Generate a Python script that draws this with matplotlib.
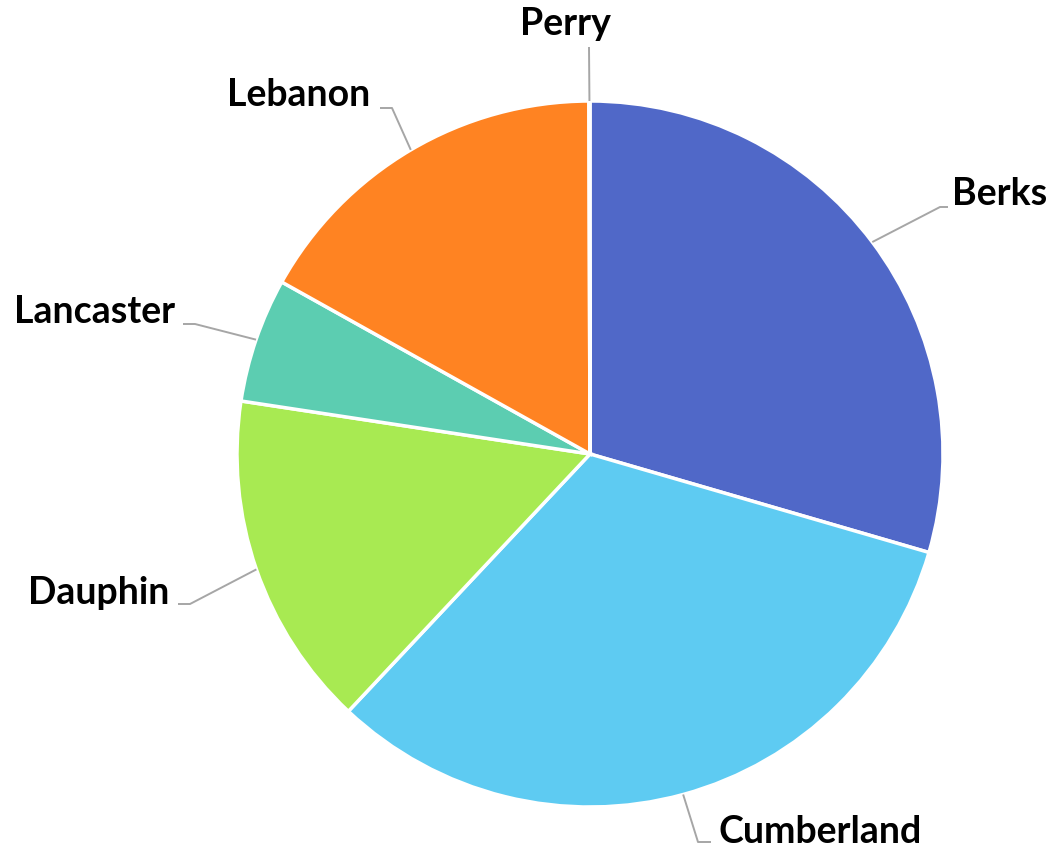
import numpy as np
import matplotlib
matplotlib.use("Agg")
import matplotlib.pyplot as plt

# County shares
labels = ["Berks", "Cumberland", "Dauphin", "Lancaster", "Lebanon", "Perry"]
values = [29.5, 32.5, 15.4, 5.7, 16.85, 0.05]
colors = ["#5068C8", "#5ECBF2", "#A8EA52", "#5CCDB1", "#FF8322", "#7E7E7E"]

W, H = 1055, 849
fig = plt.figure(figsize=(W / 100, H / 100), dpi=100)
ax = fig.add_axes([0, 0, 1, 1])

cx, cy_px, R = 590, 454, 353
wedges, _ = ax.pie(values, colors=colors, startangle=90, counterclock=False,
                   radius=R, center=(cx, H - cy_px), frame=True,
                   wedgeprops=dict(edgecolor="white", linewidth=2.5))
ax.set_xlim(0, W)
ax.set_ylim(0, H)
ax.set_aspect("equal")
ax.axis("off")

# leader elbows and label baselines, in pixel coordinates (y downward)
layout = {
    "Berks":      dict(path=[(940, 207), (948, 207)], text=(952, 205), ha="left"),
    "Cumberland": dict(path=[(698, 842), (711, 842)], text=(719, 843), ha="left"),
    "Dauphin":    dict(path=[(190, 604), (178, 604)], text=(169, 604), ha="right"),
    "Lancaster":  dict(path=[(195, 324), (183, 324)], text=(175, 323), ha="right"),
    "Lebanon":    dict(path=[(392, 108), (380, 108)], text=(370, 106), ha="right"),
    "Perry":      dict(path=[(589, 47)], text=(565, 35), ha="center"),
}

for w, lab in zip(wedges, labels):
    mid = np.deg2rad((w.theta1 + w.theta2) / 2)
    x0 = w.center[0] + w.r * np.cos(mid)
    y0 = w.center[1] + w.r * np.sin(mid)
    spec = layout[lab]
    xs = [x0] + [p[0] for p in spec["path"]]
    ys = [y0] + [H - p[1] for p in spec["path"]]
    ax.plot(xs, ys, color="#A6A6A6", lw=1.4, solid_capstyle="butt", zorder=1)
    tx, ty = spec["text"]
    ax.text(tx, H - ty, lab, ha=spec["ha"], va="baseline", fontsize=27,
            fontweight="bold", family="Lato", color="black")

fig.savefig("out.png", dpi=100, facecolor="white")
